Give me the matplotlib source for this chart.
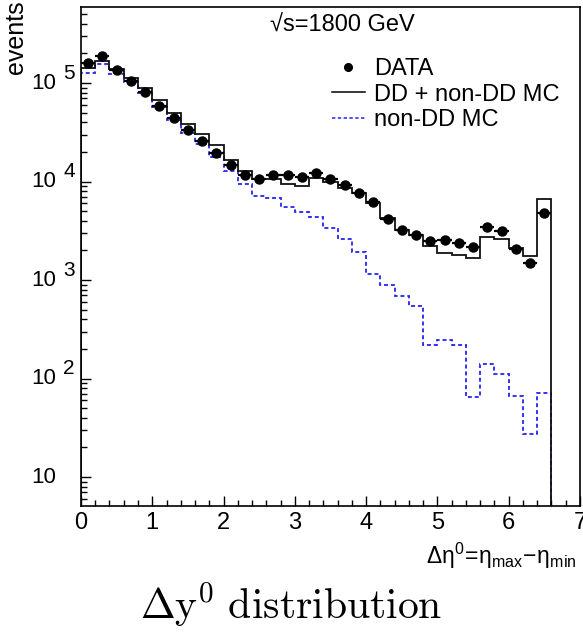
import numpy as np
import matplotlib.pyplot as plt
import matplotlib.transforms as mtransforms
from matplotlib.lines import Line2D
from matplotlib.ticker import NullFormatter

plt.rcParams['font.family'] = ['Liberation Sans', 'DejaVu Sans']
plt.rcParams['mathtext.fontset'] = 'custom'
plt.rcParams['mathtext.rm'] = 'Liberation Sans'
plt.rcParams['mathtext.it'] = 'Liberation Sans:italic'

# 0.2 wide bins in delta eta, 0 .. 6.6
edges = np.linspace(0.0, 6.6, 34)
centers = 0.5 * (edges[:-1] + edges[1:])

data_counts = [158500, 188000, 135600, 105500, 81100, 58900, 43900, 33400, 25600,
               19600, 14800, 11640, 10500, 11640, 11560, 11000, 12100, 10700,
               9200, 7590, 6150, 4190, 3220, 2870, 2510, 2550, 2360, 2180,
               3450, 3160, 2050, 1500, 4750]
mc_total = [141000, 168000, 137700, 111700, 89600, 67200, 49900, 38300, 30100,
            23500, 16500, 12700, 10500, 10500, 9370, 9060, 10770, 9950,
            8690, 7590, 6120, 4230, 3220, 2840, 2230, 1870, 1790, 1660,
            2750, 2610, 2100, 1750, 6640]
mc_nondd = [127000, 155000, 125000, 101600, 78500, 57400, 42100, 31300, 23900,
            17700, 12900, 9370, 7210, 6750, 5470, 4870, 4330, 3400,
            2590, 1940, 1160, 894, 693, 545, 217, 248, 219, 65,
            141, 112, 66, 27.5, 71]

ymin, ymax = 5.08, 5.87e5
blue = '#2424f0'

fig = plt.figure(figsize=(5.83, 6.33), dpi=100)
ax = fig.add_axes([0.1389, 0.2006, 0.8559, 0.7878])
ax.set_yscale('log')

ax.stairs(mc_nondd, edges, baseline=1, color=blue, lw=1.3, ls=(0, (2.2, 1.6)))
ax.stairs(mc_total, edges, baseline=1, color='#111111', lw=1.3)
ax.errorbar(centers, data_counts, xerr=0.1, fmt='o', color='black', ms=6.5,
            elinewidth=1.6, capsize=0)

ax.set_xlim(0, 7)
ax.set_ylim(ymin, ymax)
ax.set_xticks(range(8))
ax.set_xticks(np.arange(0, 7.01, 0.2), minor=True)
ax.set_yticks([10, 1e2, 1e3, 1e4, 1e5])
ax.set_yticklabels([])
ax.yaxis.set_minor_formatter(NullFormatter())
ax.tick_params(which='both', direction='in', top=False, right=False, width=1)
ax.tick_params(which='major', length=7.5)
ax.tick_params(which='minor', length=4.5)
ax.tick_params(axis='x', labelsize=17, pad=4)
for s in ax.spines.values():
    s.set_linewidth(1.2)

# ROOT style "10 ^n" labels on the log axis
trans = mtransforms.blended_transform_factory(ax.transAxes, ax.transData)
for e in range(1, 6):
    ax.text(-0.050, 10 ** e, '10', transform=trans, ha='right', va='center', fontsize=16)
    if e > 1:
        up = mtransforms.offset_copy(trans, fig=fig, y=10, units='dots')
        ax.text(-0.036, 10 ** e, str(e), transform=up, ha='left', va='center', fontsize=15)

handles = [Line2D([], [], ls='none', marker='o', color='black', ms=5.5),
           Line2D([], [], color='black', lw=1.1),
           Line2D([], [], color=blue, lw=1.1, ls=(0, (2.2, 1.6)))]
ax.legend(handles, ['DATA', 'DD + non-DD MC', 'non-DD MC'], loc='upper left',
          bbox_to_anchor=(0.5024, 0.898), frameon=False, fontsize=17,
          handlelength=1.4, handletextpad=0.38, labelspacing=0.14,
          borderpad=0, borderaxespad=0)

ax.text(0.523, 0.9625, '\u221as=1800 GeV', transform=ax.transAxes,
        ha='center', va='center', fontsize=17)
ax.text(0.994, -0.10, r'$\mathrm{\Delta\eta^0\!=\!\eta_{max}\!-\!\eta_{min}}$',
        transform=ax.transAxes, ha='right', va='center', fontsize=16.5)
fig.text(0.027, 0.999, 'events', rotation=90, ha='center', va='top', fontsize=18)
fig.text(0.5, 0.044, r'$\Delta\mathrm{y}^0\ \mathrm{distribution}$', ha='center',
         va='center', fontsize=30, math_fontfamily='cm')

fig.savefig('out.png', dpi=100)
